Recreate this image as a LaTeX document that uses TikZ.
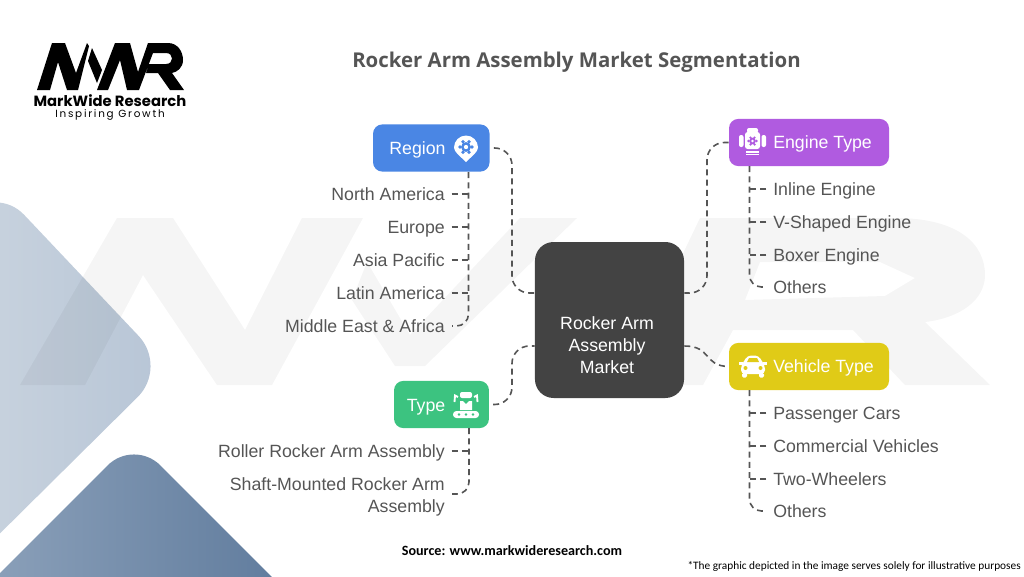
\documentclass[tikz,border=0pt]{standalone}
\usepackage{fontspec}
\setmainfont{Liberation Sans}
\newfontfamily\titlefont{Open Sans}
\newfontfamily\notefont{Carlito}
\newfontfamily\logofont{Poppins}
\definecolor{inkgray}{HTML}{555555}
\definecolor{titlegray}{HTML}{555555}
\definecolor{coregray}{HTML}{434343}
\definecolor{regionblue}{HTML}{4A86E4}
\definecolor{enginepurple}{HTML}{B05BE0}
\definecolor{vehicleyellow}{HTML}{E0CB17}
\definecolor{typegreen}{HTML}{3CC380}
\definecolor{paleleft}{HTML}{CAD4DF}
\definecolor{paleright}{HTML}{B7C5D6}
\definecolor{deepleft}{HTML}{92A6BE}
\definecolor{deepright}{HTML}{587598}
\usetikzlibrary{calc}
\tikzset{
  catbox/.style={rectangle,rounded corners=7pt,inner sep=0pt,minimum height=35.4pt},
  corebox/.style={rectangle,rounded corners=14pt,fill=coregray,inner sep=0pt,minimum width=111.8pt,minimum height=117pt},
  cattext/.style={text=white,inner sep=0pt,text height=9.5pt,text depth=0pt,font=\fontsize{13.3}{16.5}\selectfont},
  itemleft/.style={text=inkgray,anchor=east,inner sep=0pt,text height=9.5pt,text depth=0pt,font=\fontsize{13.3}{16.5}\selectfont},
  itemwrap/.style={text=inkgray,anchor=east,align=right,inner sep=0pt,font=\fontsize{13.3}{16.5}\selectfont},
  itemright/.style={text=inkgray,anchor=west,inner sep=0pt,text height=9.5pt,text depth=0pt,font=\fontsize{13.3}{16.5}\selectfont},
  link/.style={inkgray,line width=1.2pt,dash pattern=on 4.5pt off 3.2pt},
  tick/.style={link,shorten <=5pt},
  lastlink/.style={link,rounded corners=9pt},
  wmark/.style={fill=black,opacity=0.04},
}
\newcommand{\gearmark}[4]{
  \foreach \a in {0,60,...,300} \fill[#3] ($(#1,#2)+(\a:#4)$) circle (#4*0.32);
  \fill[#3] (#1,#2) circle (#4*0.82);
  \fill[white] (#1,#2) circle (#4*0.36);
}
\begin{document}
\begin{tikzpicture}[x=0.75pt,y=-0.75pt]
    \useasboundingbox (0,0) rectangle (1024,576);
    \shade[left color=paleleft,right color=paleright,rounded corners=32pt] (-40,223) -- (-5,184) -- (168,367) -- (-40,573) -- cycle;
    \shade[left color=deepleft,right color=deepright,rounded corners=28pt] (-60,633) -- (134,439) -- (340,645) -- cycle;
    \fill[wmark] (20,385) -- (117,218) -- (173,218) -- (245,330) -- (302,218) -- (363,218) -- (272,385) -- (217,385) -- (143,275) -- (85,385) -- cycle;
    \fill[wmark] (352,300) -- (367,262) -- (410,335) -- (520,218) -- (577,218) -- (425,366) -- (395,366) -- cycle;
    \fill[wmark,even odd rule] (700,218) -- (895,218) .. controls (960,218) and (985,245) .. (985,275) .. controls (985,300) and (960,318) .. (925,322) -- (990,385) -- (905,385) -- (853,330) -- (733,330) -- (703,385) -- (620,385) -- cycle (760,262) -- (880,262) -- (915,278) -- (885,296) -- (745,300) -- cycle;
    \fill[black] (37,90) -- (52,43) -- (65,43) -- (76,73) -- (87,43) -- (89,46) -- (78,90) -- (67,90) -- (58,62) -- (50,90) -- cycle;
    \fill[black] (92,48) -- (102,70) -- (97,83) -- (88,61) -- cycle;
    \fill[black] (97,90) -- (115,43) -- (130,43) -- (138,72) -- (148,43) -- (168,43) .. controls (178,43) and (183,52) .. (183,60) .. controls (183,68) and (177,72) .. (172,73) -- (184,90) -- (170,90) -- (158,73) -- (146,73) -- (149,64) -- (166,64) .. controls (174,64) and (174,53) .. (166,53) -- (153,53) -- (139,90) -- (127,90) -- (120,60) -- (108,90) -- cycle;
    \node[inner sep=0pt,text height=8pt,text depth=0pt,font=\logofont\bfseries\fontsize{11.1}{12}\selectfont] (logoname) at (110,101.5) {MarkWide Research};
    \node[inner sep=0pt,text height=5.6pt,text depth=1.6pt,font=\logofont\fontsize{7.8}{9}\selectfont] (logotag) at (110,114.5) {\addfontfeature{LetterSpace=17}Inspiring Growth};
    \node[text=titlegray,inner sep=0pt,text height=11pt,text depth=0pt,font=\titlefont\bfseries\fontsize{15.3}{20}\selectfont] (charttitle) at (576.5,60) {Rocker Arm Assembly Market Segmentation};

    \node[corebox] (core) at (609.5,320) {};
    \node[text=white,inner sep=0pt,align=center,font=\fontsize{13.3}{16.5}\selectfont] (corelabel) at (607,345) {Rocker Arm\\Assembly\\Market};
    \node[catbox,fill=regionblue,minimum width=87.4pt] (region) at (431.3,148) {};
    \node[cattext] (regionlabel) at (417.5,148) {Region};
    \node[catbox,fill=enginepurple,minimum width=120pt] (engine) at (809,142.5) {};
    \node[cattext,anchor=west] (enginelabel) at (773,142.5) {Engine Type};
    \node[catbox,fill=vehicleyellow,minimum width=120pt] (vehicle) at (809,366.5) {};
    \node[cattext,anchor=west] (vehiclelabel) at (773,366.5) {Vehicle Type};
    \node[catbox,fill=typegreen,minimum width=71.2pt] (type) at (441.5,404.5) {};
    \node[cattext] (typelabel) at (426,405) {Type};

    % icons
    \fill[white] (466,162) .. controls (460,156) and (454,152) .. (454,147.5) arc[start angle=180,end angle=360,radius=12] .. controls (478,152) and (472,156) .. (466,162) -- cycle;
    \gearmark{466}{147}{regionblue}{6}
    \fill[white,rounded corners=2pt] (745,132) rectangle (760,149);
    \fill[white,rounded corners=1.5pt] (747,128) rectangle (758,133);
    \fill[white,rounded corners=1.5pt] (739,135) rectangle (743.5,147);
    \fill[white,rounded corners=1.5pt] (761.5,135) rectangle (766,147);
    \fill[white] (746,150.5) rectangle (759,152.5);
    \fill[white] (746,153.5) rectangle (759,155);
    \gearmark{752.5}{141}{enginepurple}{4}
    \fill[white,rounded corners=3pt] (744,362) -- (747,355.5) -- (759,355.5) -- (762,362) -- (765,365) -- (765,374) -- (741,374) -- (741,365) -- cycle;
    \fill[white] (739,362) rectangle (743,365);
    \fill[white] (763,362) rectangle (767,365);
    \fill[white,rounded corners=1pt] (742,373) rectangle (747,377.5);
    \fill[white,rounded corners=1pt] (759,373) rectangle (764,377.5);
    \fill[vehicleyellow] (747,362) -- (749,358) -- (757,358) -- (759,362) -- cycle;
    \fill[vehicleyellow] (745.5,368) circle (2);
    \fill[vehicleyellow] (760.5,368) circle (2);
    \fill[white,rounded corners=2.5pt] (453,411) rectangle (479,418);
    \foreach \dotx in {459,466,473} \fill[typegreen] (\dotx,414.5) circle (1.3);
    \fill[white] (460,401) -- (463,401) -- (466,404) -- (469,401) -- (472,401) -- (472,410) -- (460,410) -- cycle;
    \fill[white,rounded corners=1.5pt] (460,392) rectangle (472,398);
    \draw[white,line width=1.4pt] (458,397) -- (455,395.5) -- (454.5,402);
    \draw[white,line width=1.4pt] (474,397) -- (477,395.5) -- (477.5,402);

    % connectors to the core
    \coordinate (regionrise) at (512,293);
    \coordinate (typerise) at (512,346);
    \coordinate (enginerise) at (707,293);
    \coordinate (coreregion) at (core.west |- regionrise);
    \coordinate (coretype) at (core.west |- typerise);
    \coordinate (coreengine) at (core.east |- enginerise);
    \coordinate (corevehicle) at (core.east |- typerise);
    \draw[link,rounded corners=13pt,shorten <=3pt] (region.east) -| (regionrise) -- (coreregion);
    \draw[link,rounded corners=13pt,shorten <=3pt] (type.east) -| (typerise) -- (coretype);
    \draw[link,rounded corners=13pt] (engine.west) -| (enginerise) -- (coreengine);
    \draw[link] (corevehicle) .. controls (712,346) and (703,366) .. (vehicle.west);

    % region branch
    \node[itemleft] (namerica) at (445,194) {North America};
    \node[itemleft] (europe) at (445,227) {Europe};
    \node[itemleft] (asia) at (445,260) {Asia Pacific};
    \node[itemleft] (latin) at (445,293) {Latin America};
    \node[itemleft] (mideast) at (445,326) {Middle East \& Africa};
    \coordinate (regiontrunk) at (468.5,172);
    \foreach \leaf in {namerica,europe,asia,latin} \draw[tick] (\leaf.east) -- (\leaf.east -| regiontrunk);
    \draw[lastlink] (regiontrunk) |- ($(mideast.east)+(7,0)$);

    % type branch
    \node[itemleft] (roller) at (445,451) {Roller Rocker Arm Assembly};
    \node[itemwrap] (shaft) at (445,497) {Shaft-Mounted Rocker Arm\\Assembly};
    \coordinate (typetrunk) at (469,428);
    \draw[tick] (roller.east) -- (roller.east -| typetrunk);
    \draw[lastlink] (typetrunk) |- ($(shaft.east)+(7,-3)$);

    % engine branch
    \node[itemright] (inline) at (773,189) {Inline Engine};
    \node[itemright] (vshaped) at (773,222) {V-Shaped Engine};
    \node[itemright] (boxer) at (773,255) {Boxer Engine};
    \node[itemright] (engineother) at (773,287) {Others};
    \coordinate (enginetrunk) at (749.5,166);
    \foreach \leaf in {inline,vshaped,boxer} \draw[tick] (\leaf.west) -- (\leaf.west -| enginetrunk);
    \draw[lastlink] (enginetrunk) |- ($(engineother.west)+(-7,0)$);

    % vehicle branch
    \node[itemright] (passenger) at (773,413) {Passenger Cars};
    \node[itemright] (commercial) at (773,446) {Commercial Vehicles};
    \node[itemright] (twowheel) at (773,479) {Two-Wheelers};
    \node[itemright] (vehicleother) at (773,511) {Others};
    \coordinate (vehicletrunk) at (749.5,390);
    \foreach \leaf in {passenger,commercial,twowheel} \draw[tick] (\leaf.west) -- (\leaf.west -| vehicletrunk);
    \draw[lastlink] (vehicletrunk) |- ($(vehicleother.west)+(-7,0)$);

    \node[inner sep=0pt,font=\notefont\bfseries\fontsize{10.6}{12}\selectfont] (source) at (512,551) {Source: www.markwideresearch.com};
    \node[inner sep=0pt,anchor=east,font=\notefont\fontsize{8.5}{11}\selectfont] (disclaimer) at (1021,566) {*The graphic depicted in the image serves solely for illustrative purposes};
\end{tikzpicture}
\end{document}
